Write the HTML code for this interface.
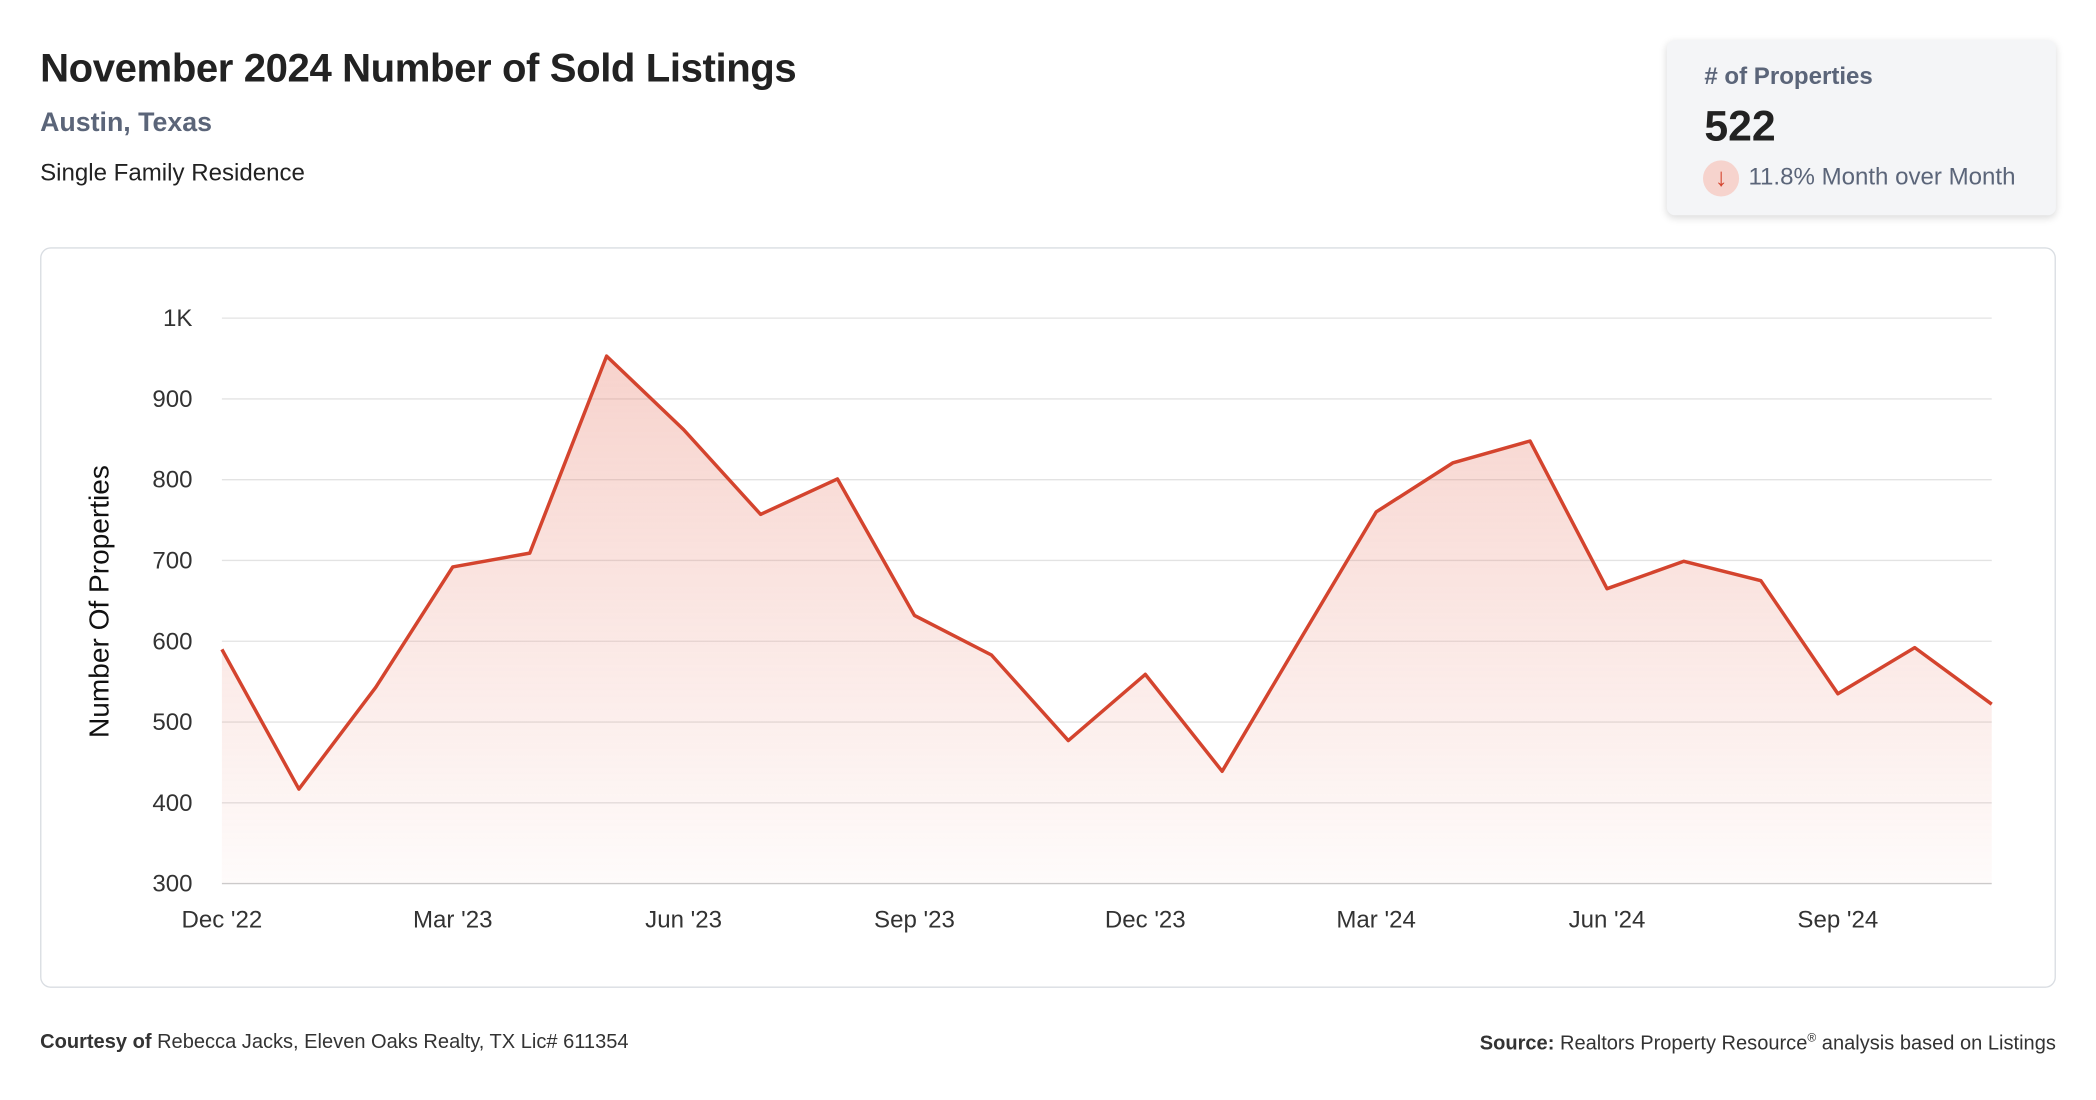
<!DOCTYPE html>
<html><head><meta charset="utf-8">
<style>
html,body{margin:0;padding:0;background:#fff;width:2096px;height:1100px;overflow:hidden}
#wrap{position:absolute;left:0;top:0;width:1568px;height:823px;transform:scale(1.33673);transform-origin:0 0;font-family:"Liberation Sans",sans-serif;color:#222}
.abs{position:absolute}
</style></head><body>
<div id="wrap">
<div class="abs" style="left:30px;top:35px;font-size:30px;font-weight:bold;color:#222;letter-spacing:-0.3px">November 2024 Number of Sold Listings</div>
<div class="abs" style="left:30px;top:81px;font-size:20px;font-weight:bold;color:#5b6579">Austin, Texas</div>
<div class="abs" style="left:30px;top:119px;font-size:18px;color:#222">Single Family Residence</div>

<div class="abs" style="left:1247px;top:30px;width:291px;height:131px;background:#f4f5f7;border-radius:6px;box-shadow:0 2px 6px rgba(0,0,0,0.15)">
 <div class="abs" style="left:28px;top:17px;font-size:18px;font-weight:bold;color:#5b6579"># of Properties</div>
 <div class="abs" style="left:28px;top:46px;font-size:32px;font-weight:bold;color:#222">522</div>
 <div class="abs" style="left:27px;top:90px;width:27px;height:27px;border-radius:50%;background:#f6d3cd;color:#d4442e;font-size:19px;text-align:center;line-height:27px">↓</div>
 <div class="abs" style="left:61px;top:92px;font-size:18px;color:#5b6579">11.8% Month over Month</div>
</div>

<div class="abs" style="left:30px;top:185px;width:1506px;height:552px;border:1px solid #d9dde2;border-radius:8px"></div>
<svg class="abs" id="chart" style="left:0;top:0" width="1568" height="823">
<defs><linearGradient id="g" x1="0" y1="0" x2="0" y2="1"><stop offset="0" stop-color="#e8806e" stop-opacity="0.35"/><stop offset="1" stop-color="#e8806e" stop-opacity="0.03"/></linearGradient></defs>
<g id="grid"></g><path id="area" fill="url(#g)"/><path id="line" fill="none" stroke="#d4442e" stroke-width="2.6" stroke-linejoin="round"/>
<g id="labels" font-family="Liberation Sans, sans-serif" font-size="18" fill="#333"></g>
<text transform="translate(81,450) rotate(-90)" text-anchor="middle" font-family="Liberation Sans, sans-serif" font-size="21" fill="#111">Number Of Properties</text>
</svg>

<div class="abs" style="left:30px;top:771px;font-size:15px;color:#333"><b>Courtesy of</b> Rebecca Jacks, Eleven Oaks Realty, TX Lic# 611354</div>
<div class="abs" style="right:30px;top:771px;font-size:15px;color:#333"><b>Source:</b> Realtors Property Resource<sup style="font-size:9px">®</sup> analysis based on Listings</div>
</div>
<script>
const values=[590,417,543,692,709,953,862,757,801,632,583,477,559,439,600,760,821,848,665,699,675,535,592,522];
const yTicks=[300,400,500,600,700,800,900,1000];
const yTickLabels=["300","400","500","600","700","800","900","1K"];
const xTickIdx=[0,3,6,9,12,15,18,21];
const xTickLabels=["Dec '22","Mar '23","Jun '23","Sep '23","Dec '23","Mar '24","Jun '24","Sep '24"];
const NS="http://www.w3.org/2000/svg";
const x0=166,x1=1490,yTop=238,yBot=661,vMin=300,vMax=1000;
const xs=i=>x0+(x1-x0)*i/(values.length-1);
const ys=v=>yBot-(v-vMin)/(vMax-vMin)*(yBot-yTop);
const grid=document.getElementById('grid'),lab=document.getElementById('labels');
yTicks.forEach((t,k)=>{
 const l=document.createElementNS(NS,'line');
 
 
 l.setAttribute('x1',x0);l.setAttribute('x2',x1);l.setAttribute('y1',ys(t));l.setAttribute('y2',ys(t));
 l.setAttribute('stroke',k===0?'#ccc':'#e3e3e3');l.setAttribute('stroke-width','1');
 grid.appendChild(l);
 const tx=document.createElementNS(NS,'text');
 
 
 tx.setAttribute('x',144);tx.setAttribute('y',ys(t)+6);tx.setAttribute('text-anchor','end');
 tx.textContent=yTickLabels[k];lab.appendChild(tx);
});
xTickIdx.forEach((i,k)=>{
 const tx=document.createElementNS(NS,'text');
 
 
 tx.setAttribute('x',xs(i));tx.setAttribute('y',694);tx.setAttribute('text-anchor','middle');
 tx.textContent=xTickLabels[k];lab.appendChild(tx);
});
let d=values.map((v,i)=>(i?'L':'M')+xs(i).toFixed(1)+','+ys(v).toFixed(1)).join(' ');
const line=document.getElementById('line');line.setAttribute('d',d);


const area=document.getElementById('area');
area.setAttribute('d',d+` L${x1},${yBot} L${x0},${yBot} Z`);


</script>
</body></html>
